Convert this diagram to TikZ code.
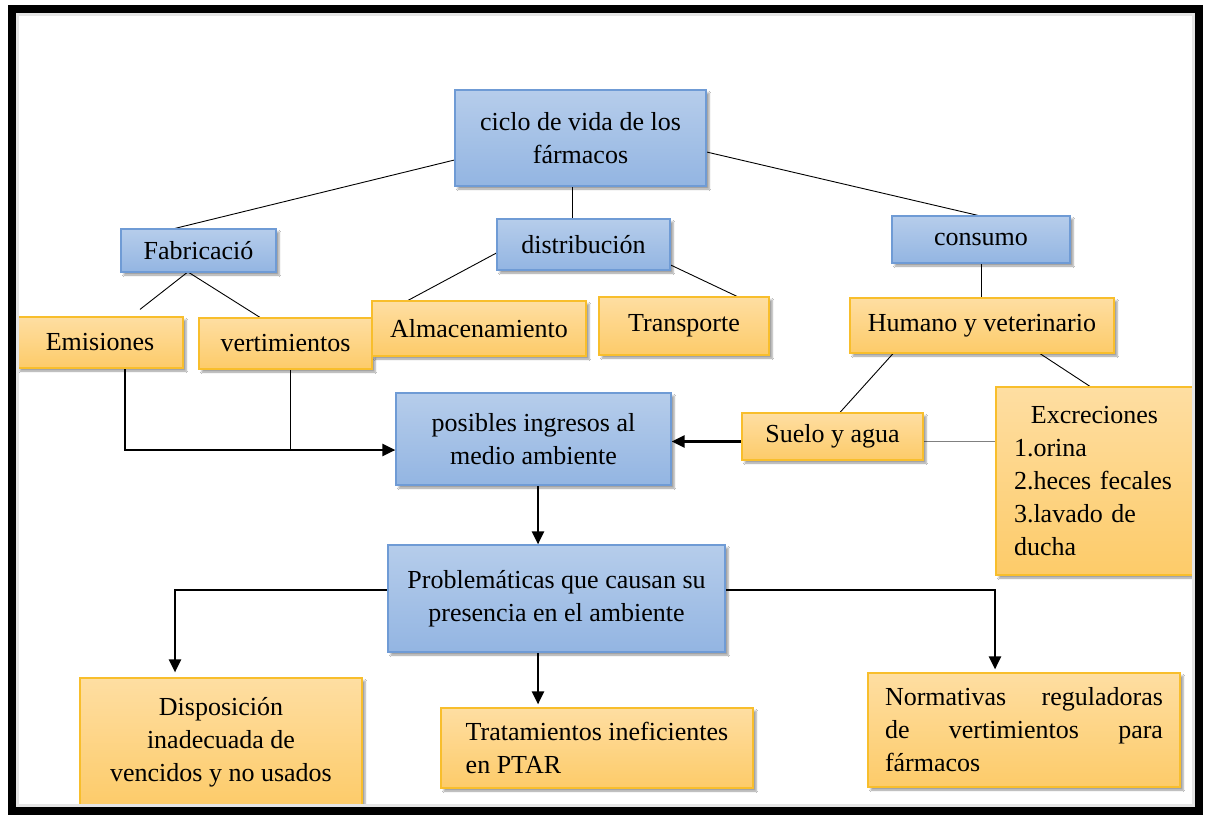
\documentclass[tikz,border=0pt]{standalone}
\usepackage{fontspec}
\setmainfont{Liberation Serif}
\usetikzlibrary{arrows.meta,calc,shadows.blur,backgrounds}
\definecolor{bluetop}{HTML}{B6CDEB}
\definecolor{bluebot}{HTML}{93B5E2}
\definecolor{blueborder}{HTML}{6F9BD5}
\definecolor{orangetop}{HTML}{FEDEA2}
\definecolor{orangebot}{HTML}{FDCB69}
\definecolor{orangeborder}{HTML}{F8BE2C}
\hyphenpenalty=10000
\exhyphenpenalty=10000
\tolerance=10000
\begin{document}
\begin{tikzpicture}[x=1pt,y=-1pt,
  every node/.style={font=\fontsize{26}{33}\selectfont, inner sep=0pt},
  bbox/.style={draw=blueborder, line width=1.2pt, top color=bluetop, bottom color=bluebot,
    blur shadow={shadow xshift=3pt, shadow yshift=-3pt}},
  obox/.style={draw=orangeborder, line width=1.2pt, top color=orangetop, bottom color=orangebot,
    blur shadow={shadow xshift=3pt, shadow yshift=-3pt}},
  conn/.style={line width=0.9pt},
  arr/.style={line width=2.4pt, -{Triangle[length=13pt,width=12pt]}}]
\useasboundingbox (0,0) rectangle (1207,815);

% nodes
\node[bbox, minimum width=251pt, minimum height=96pt, align=center] (ciclo) at (580.5,138) {ciclo de vida de los\\fármacos};
\node[bbox, minimum width=155pt, minimum height=43pt] (fab) at (198.5,250.5) {Fabricació};
\node[bbox, minimum width=173pt, minimum height=51pt] (dist) at (583.5,244.5) {distribución};
\node[bbox, minimum width=178pt, minimum height=47pt] (cons) at (981,239.5) {consumo};
\node[obox, minimum width=166pt, minimum height=51pt] (emis) at (100,342.5) {Emisiones};
\node[obox, minimum width=173pt, minimum height=51pt] (vert) at (285.5,343.5) {vertimientos};
\node[obox, minimum width=214pt, minimum height=55pt] (alm) at (479,328.5) {Almacenamiento};
\node[obox, minimum width=170pt, minimum height=58pt] (trans) at (684,326) {Transporte};
\node[obox, minimum width=264pt, minimum height=55pt] (hum) at (982,325.5) {Humano y veterinario};
\node[bbox, minimum width=275pt, minimum height=92pt, align=center] (pos) at (533.5,439) {posibles ingresos al\\medio ambiente};
\node[obox, minimum width=181pt, minimum height=47pt] (suelo) at (832.5,436.5) {Suelo y agua};
\node[obox, minimum width=197pt, minimum height=188pt, text width=161pt, align=left] (exc) at (1094.5,481)
  {\makebox[161pt][c]{Excreciones}\\1.orina\\2.heces fecales\\3.lavado de\\ducha};
\node[bbox, minimum width=337pt, minimum height=107pt, align=center] (prob) at (556.5,598.5) {Problemáticas que causan su\\presencia en el ambiente};
\node[obox, minimum width=282pt, minimum height=129pt, align=center] (disp) at (221,742.5) {Disposición\\inadecuada de\\vencidos y no usados};
\node[obox, minimum width=312pt, minimum height=80pt, align=left] (trat) at (597,748) {Tratamientos ineficientes\\en PTAR};
\node[obox, minimum width=312pt, minimum height=114pt, text width=278pt, align=justify] (norm) at (1024,730) {Normativas reguladoras de vertimientos para fármacos};

% connectors
\begin{scope}[on background layer]
\fill[white] (0,0) rectangle (1207,815);
\draw[conn] ([yshift=-22pt]ciclo.west) -- ([xshift=-23.5pt]fab.north);
\draw[conn] ([xshift=-8.5pt]ciclo.south) -- ([xshift=-11.5pt]dist.north);
\draw[conn] ([yshift=-14pt]ciclo.east) -- ([xshift=-3pt]cons.north);
\draw[conn] ([xshift=-11.5pt]fab.south) -- ([xshift=40pt,yshift=7pt]emis.north);
\draw[conn] ([xshift=-9.5pt]fab.south) -- ([xshift=-25.5pt]vert.north);
\draw[conn] ([yshift=-8.5pt]dist.west) -- ([xshift=-71pt]alm.north);
\draw[conn] ([xshift=-20pt,yshift=-11pt]dist.east) -- ([xshift=53pt]trans.north);
\draw[conn] (cons.south) -- (cons.south |- hum.north);
\draw[conn] ([xshift=-89pt]hum.south) -- ([xshift=7.5pt]suelo.north);
\draw[conn] ([xshift=58pt]hum.south) -- ([xshift=-4.5pt]exc.north);
\draw[conn, draw=gray] ([yshift=-5pt]suelo.east) -- ([yshift=-5pt]suelo.east -| exc.west);
\draw[arr] ([yshift=-5pt]suelo.west) -- ([yshift=-5pt]suelo.west -| pos.east);
\coordinate (j) at ([yshift=-11pt]pos.west);
\draw[arr] ([xshift=25pt]emis.south) |- (j);
\draw[conn] ([xshift=4.5pt]vert.south) -- ([xshift=4.5pt]vert.south |- j);
\draw[arr] ([xshift=4.5pt]pos.south) -- ([xshift=4.5pt]pos.south |- prob.north);
\draw[arr, shorten >=5pt] ([yshift=8.5pt]prob.west) -| ([xshift=-46pt]disp.north);
\draw[arr, shorten >=3pt] ([xshift=-18.5pt]prob.south) -- ([xshift=-18.5pt]prob.south |- trat.north);
\draw[arr, shorten >=3pt] ([yshift=8.5pt]prob.east) -| ([xshift=-29pt]norm.north);
\end{scope}

% frame
\draw[line width=3pt, black!10] (17.5,14.5) rectangle (1193.5,805.5);
\draw[line width=8pt] (12,9) rectangle (1199,811);
\end{tikzpicture}
\end{document}
